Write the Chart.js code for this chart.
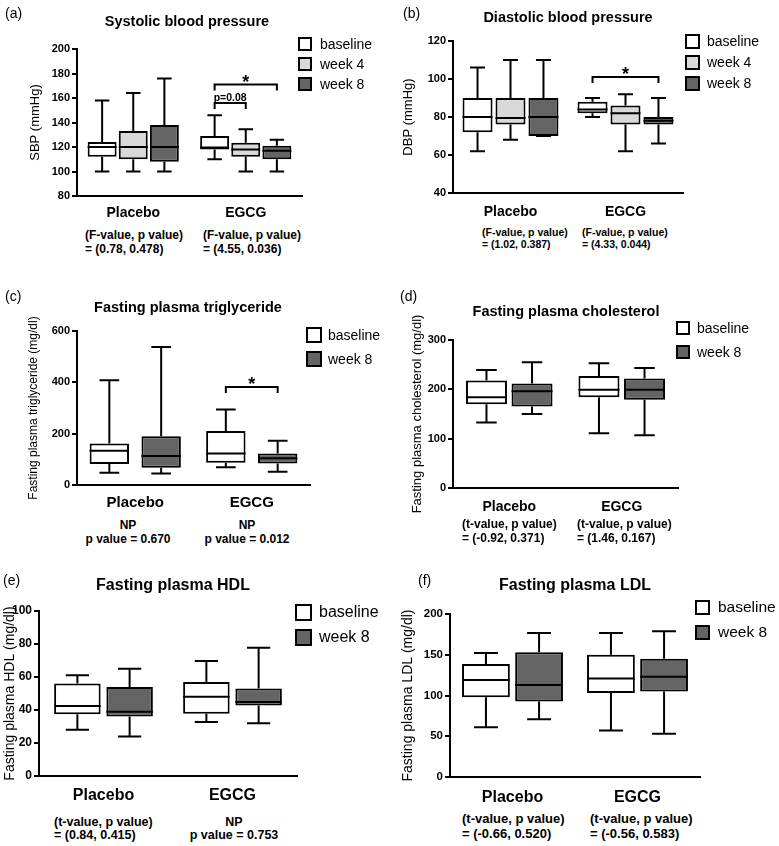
<!DOCTYPE html>
<html>
<head>
<meta charset="utf-8">
<script src="https://cdn.jsdelivr.net/npm/chart.js@4.4.1/dist/chart.umd.min.js"></script>
<style>
  body { margin: 0; background: #fff; }
  #fig { position: relative; width: 779px; height: 846px; font-family: 'Liberation Sans', Arial, sans-serif; color: #000; overflow: hidden; }
  #fig canvas { position: absolute; }
  .t { position: absolute; white-space: nowrap; line-height: 1; }
  .sq { position: absolute; box-sizing: border-box; border: 2px solid #000; }
</style>
</head>
<body>
<div id="fig"></div>
<script>
const groups = ['Placebo', 'EGCG'];
const names3 = ['baseline', 'week 4', 'week 8'];
const names2 = ['baseline', 'week 8'];

// each entry: [min, q1, median, q3, max] for Placebo, EGCG
const sbpBaseline = [[100, 112, 120, 124, 158], [110, 118, 119.5, 129, 146]];
const sbpWeek4 = [[100, 110, 120, 133, 164], [100, 112, 118, 123.5, 134.5]];
const sbpWeek8 = [[100, 108, 120, 138, 176], [100, 110, 117, 121, 126]];
const sbpTicks = [80, 100, 120, 140, 160, 180, 200];

const dbpBaseline = [[62, 72, 80, 90, 106], [80, 82, 84, 88, 90]];
const dbpWeek4 = [[68, 76, 79.5, 90, 110], [62, 76, 82, 86, 92]];
const dbpWeek8 = [[70, 70, 80, 90, 110], [66, 76, 78, 80, 90]];
const dbpTicks = [40, 60, 80, 100, 120];

const tgBaseline = [[48, 82, 133, 162, 408], [69, 87, 123, 210, 294]];
const tgWeek8 = [[45, 67, 113, 190, 538], [52, 84, 104, 123, 172]];
const tgTicks = [0, 200, 400, 600];

const tcBaseline = [[133, 170, 184, 218, 239], [111, 184, 199, 227, 253]];
const tcWeek8 = [[150, 165, 196, 212, 255], [107, 179, 199, 222, 243]];
const tcTicks = [0, 100, 200, 300];

const hdlBaseline = [[28, 37.5, 42.5, 56, 61], [32.7, 37.8, 48, 57, 69.7]];
const hdlWeek8 = [[24, 36, 39, 54, 65], [32, 42.8, 44.8, 53, 77.8]];
const hdlTicks = [0, 20, 40, 60, 80, 100];

const ldlBaseline = [[61, 98, 119, 138.5, 152], [57, 103, 121, 150, 176.6]];
const ldlWeek8 = [[71, 92.6, 113, 153, 176.6], [53, 105, 123, 145, 178.7]];
const ldlTicks = [0, 50, 100, 150, 200];

const sbpStats = [['(F-value, p value)', '= (0.78, 0.478)'], ['(F-value, p value)', '= (4.55, 0.036)']];
const dbpStats = [['(F-value, p value)', '= (1.02, 0.387)'], ['(F-value, p value)', '= (4.33, 0.044)']];
const tgStats = [['NP', 'p value = 0.670'], ['NP', 'p value = 0.012']];
const tcStats = [['(t-value, p value)', '= (-0.92, 0.371)'], ['(t-value, p value)', '= (1.46, 0.167)']];
const hdlStats = [['(t-value, p value)', '= (0.84, 0.415)'], ['NP', 'p value = 0.753']];
const ldlStats = [['(t-value, p value)', '= (-0.66, 0.520)'], ['(t-value, p value)', '= (-0.56, 0.583)']];

// significance brackets: group index, from/to series index, level in axis units
const sbpBrackets = [{ group: 1, from: 0, to: 2, value: 171, label: '*' }, { group: 1, from: 0, to: 1, value: 156, label: 'p=0.08' }];
const dbpBrackets = [{ group: 1, from: 0, to: 2, value: 101, label: '*' }];
const tgBrackets = [{ group: 1, from: 0, to: 1, value: 382, label: '*' }];

const fills3 = ['#ffffff', '#d9d9d9', '#646464'];
const fills2 = ['#ffffff', '#646464'];
const FONT = "'Liberation Sans', Arial, sans-serif";
const fig = document.getElementById('fig');

const panels = [
  { id: 'a', letter: '(a)', title: 'Systolic blood pressure', yTitle: 'SBP (mmHg)', names: names3,
    series: [sbpBaseline, sbpWeek4, sbpWeek8], ticks: sbpTicks, stats: sbpStats, brackets: sbpBrackets,
    x0: 0, plot: [77, 49, 302, 196], catPct: 0.83, barPct: 0.93,
    ylabX: 35, ylabSize: 13, tickSize: 11, xlabSize: 14, xlabOff: 17,
    titlePos: [187, 21, 14.5], letterPos: [5, 13],
    legend: { x: 298, sq: 14, tx: 320, rows: [44, 64, 84], size: 14 },
    statSize: 12, statLh: 14, statY: 235, statPos: [[85, 'left'], [203, 'left']] },
  { id: 'b', letter: '(b)', title: 'Diastolic blood pressure', yTitle: 'DBP (mmHg)', names: names3,
    series: [dbpBaseline, dbpWeek4, dbpWeek8], ticks: dbpTicks, stats: dbpStats, brackets: dbpBrackets,
    x0: 390, plot: [453, 41, 683, 193], catPct: 0.86, barPct: 0.91,
    ylabX: 408, ylabSize: 13, tickSize: 11, xlabSize: 14, xlabOff: 19,
    titlePos: [568, 17, 14.5], letterPos: [403, 13],
    legend: { x: 685, sq: 15, tx: 707, rows: [41, 62, 83], size: 14 },
    statSize: 10.5, statLh: 12, statY: 232, statPos: [[482, 'left'], [582, 'left']] },
  { id: 'c', letter: '(c)', title: 'Fasting plasma triglyceride', yTitle: 'Fasting plasma triglyceride (mg/dl)', names: names2,
    series: [tgBaseline, tgWeek8], ticks: tgTicks, stats: tgStats, brackets: tgBrackets,
    x0: 0, plot: [77, 331, 310, 485], catPct: 0.89, barPct: 0.76,
    ylabX: 34, ylabSize: 12, tickSize: 11, xlabSize: 15, xlabOff: 18,
    titlePos: [188, 307, 14.5], letterPos: [5, 296],
    legend: { x: 306, sq: 16, tx: 328, rows: [335, 359], size: 14 },
    statSize: 12, statLh: 14, statY: 525, statPos: [[128, 'center'], [247, 'center']] },
  { id: 'd', letter: '(d)', title: 'Fasting plasma cholesterol', yTitle: 'Fasting plasma cholesterol (mg/dl)', names: names2,
    series: [tcBaseline, tcWeek8], ticks: tcTicks, stats: tcStats, brackets: [],
    x0: 390, plot: [453, 340, 678, 488], catPct: 0.81, barPct: 0.9,
    ylabX: 417, ylabSize: 13, tickSize: 11, xlabSize: 14, xlabOff: 19,
    titlePos: [566, 311, 14.5], letterPos: [400, 296],
    legend: { x: 676, sq: 14, tx: 697, rows: [328, 352], size: 14 },
    statSize: 12, statLh: 14, statY: 524, statPos: [[462, 'left'], [577, 'left']] },
  { id: 'e', letter: '(e)', title: 'Fasting plasma HDL', yTitle: 'Fasting plasma HDL (mg/dl)', names: names2,
    series: [hdlBaseline, hdlWeek8], ticks: hdlTicks, stats: hdlStats, brackets: [],
    x0: 0, plot: [39, 611, 297, 776], catPct: 0.81, barPct: 0.89,
    ylabX: 10, ylabSize: 14, tickSize: 12, xlabSize: 16, xlabOff: 20,
    titlePos: [173, 585, 16], letterPos: [3, 580],
    legend: { x: 295, sq: 17, tx: 319, rows: [612, 637], size: 16 },
    statSize: 12.5, statLh: 13, statY: 822, statPos: [[54, 'left'], [234, 'center']] },
  { id: 'f', letter: '(f)', title: 'Fasting plasma LDL', yTitle: 'Fasting plasma LDL (mg/dl)', names: names2,
    series: [ldlBaseline, ldlWeek8], ticks: ldlTicks, stats: ldlStats, brackets: [],
    x0: 390, plot: [450, 614, 700, 777], catPct: 0.85, barPct: 0.9,
    ylabX: 408, ylabSize: 14, tickSize: 11.5, xlabSize: 16, xlabOff: 21,
    titlePos: [575, 585, 16], letterPos: [418, 580],
    legend: { x: 695, sq: 15, tx: 718, rows: [607, 632], size: 15.5 },
    statSize: 13, statLh: 15, statY: 818, statPos: [[462, 'left'], [590, 'left']] }
];

function addText(txt, x, y, size, bold, align) {
  const d = document.createElement('div');
  d.className = 't';
  d.textContent = txt;
  d.style.fontSize = size + 'px';
  d.style.fontWeight = bold ? 'bold' : 'normal';
  d.style.left = x + 'px';
  d.style.top = y + 'px';
  d.style.transform = align === 'center' ? 'translate(-50%,-50%)' : 'translate(0,-50%)';
  fig.appendChild(d);
}

// whiskers, medians and brackets on top of the floating bars
function boxPlugin(p) {
  return {
    id: 'boxes' + p.id,
    afterDatasetsDraw(chart) {
      const ctx = chart.ctx, ys = chart.scales.y;
      ctx.save();
      ctx.strokeStyle = '#000';
      ctx.lineWidth = 2;
      chart.data.datasets.forEach((ds, di) => {
        chart.getDatasetMeta(di).data.forEach((bar, i) => {
          const [lo, q1, med, q3, hi] = ds.stats[i].map(v => ys.getPixelForValue(v));
          const x = bar.x, half = bar.width / 2, cap = bar.width / 4;
          ctx.beginPath();
          ctx.moveTo(x, q3); ctx.lineTo(x, hi);
          ctx.moveTo(x - cap, hi); ctx.lineTo(x + cap, hi);
          ctx.moveTo(x, q1); ctx.lineTo(x, lo);
          ctx.moveTo(x - cap, lo); ctx.lineTo(x + cap, lo);
          ctx.moveTo(x - half, med); ctx.lineTo(x + half, med);
          ctx.stroke();
        });
      });
      p.brackets.forEach(b => {
        const x1 = chart.getDatasetMeta(b.from).data[b.group].x;
        const x2 = chart.getDatasetMeta(b.to).data[b.group].x;
        const y = ys.getPixelForValue(b.value);
        ctx.beginPath();
        ctx.moveTo(x1, y + 6); ctx.lineTo(x1, y); ctx.lineTo(x2, y); ctx.lineTo(x2, y + 6);
        ctx.stroke();
        ctx.fillStyle = '#000';
        ctx.textAlign = 'center';
        ctx.textBaseline = 'alphabetic';
        if (b.label === '*') {
          ctx.font = 'bold 18px ' + FONT;
          ctx.fillText('*', (x1 + x2) / 2, y + 3);
        } else {
          ctx.font = 'bold 10.5px ' + FONT;
          ctx.fillText(b.label, (x1 + x2) / 2, y - 2);
        }
      });
      ctx.restore();
    }
  };
}

function makePanel(p) {
  const [left, top, right, bottom] = p.plot;
  const y0 = Math.max(0, top - 45), h = bottom + 32 - y0, w = right + 10 - p.x0;
  const cv = document.createElement('canvas');
  cv.width = w; cv.height = h;
  cv.style.left = p.x0 + 'px'; cv.style.top = y0 + 'px';
  cv.style.width = w + 'px'; cv.style.height = h + 'px';
  fig.appendChild(cv);
  const padL = p.ylabX - p.x0 - 0.6 * p.ylabSize;
  const fills = p.names.length === 3 ? fills3 : fills2;

  new Chart(cv, {
    type: 'bar',
    data: {
      labels: groups,
      datasets: p.series.map((s, i) => ({
        label: p.names[i],
        data: s.map(v => [v[1], v[3]]),
        stats: s,
        backgroundColor: fills[i],
        borderColor: '#000',
        borderWidth: 2,
        borderSkipped: false,
        categoryPercentage: p.catPct,
        barPercentage: p.barPct
      }))
    },
    options: {
      responsive: false,
      animation: false,
      devicePixelRatio: 1,
      layout: { padding: { left: padL, top: top - y0, right: 10, bottom: 0 } },
      plugins: { legend: { display: false }, tooltip: { enabled: false } },
      scales: {
        x: {
          grid: { display: true, drawOnChartArea: false, drawTicks: false },
          border: { color: '#000', width: 2 },
          ticks: { color: '#000', font: { family: FONT, size: p.xlabSize, weight: 'bold' }, padding: p.xlabOff - 0.6 * p.xlabSize, maxRotation: 0 },
          afterFit: s => { s.height = y0 + h - bottom; }
        },
        y: {
          min: p.ticks[0],
          max: p.ticks[p.ticks.length - 1],
          afterBuildTicks: s => { s.ticks = p.ticks.map(v => ({ value: v })); },
          grid: { display: true, drawOnChartArea: false, drawTicks: true, tickLength: 5, color: '#000', lineWidth: 2 },
          border: { color: '#000', width: 2 },
          ticks: { color: '#000', font: { family: FONT, size: p.tickSize, weight: 'bold' }, padding: 2 },
          title: { display: true, text: p.yTitle, color: '#000', font: { family: FONT, size: p.ylabSize }, padding: 0 },
          afterFit: s => { s.width = left - p.x0 - padL; }
        }
      }
    },
    plugins: [boxPlugin(p)]
  });

  addText(p.title, p.titlePos[0], p.titlePos[1], p.titlePos[2], true, 'center');
  addText(p.letter, p.letterPos[0], p.letterPos[1], 14, false, 'left');
  p.names.forEach((n, i) => {
    const sq = document.createElement('div');
    sq.className = 'sq';
    sq.style.left = p.legend.x + 'px';
    sq.style.top = (p.legend.rows[i] - p.legend.sq / 2) + 'px';
    sq.style.width = p.legend.sq + 'px';
    sq.style.height = p.legend.sq + 'px';
    sq.style.background = fills[i];
    fig.appendChild(sq);
    addText(n, p.legend.tx, p.legend.rows[i], p.legend.size, false, 'left');
  });
  p.stats.forEach((lines, g) => {
    lines.forEach((ln, k) => addText(ln, p.statPos[g][0], p.statY + k * p.statLh, p.statSize, true, p.statPos[g][1]));
  });
}

panels.forEach(makePanel);
</script>
</body>
</html>
